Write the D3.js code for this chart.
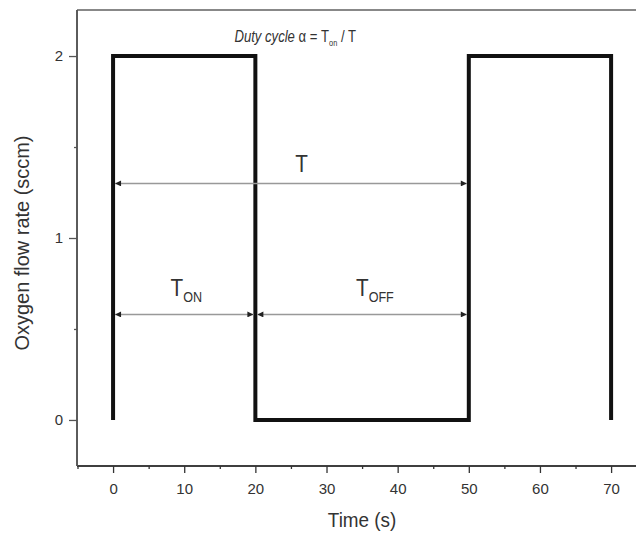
<!DOCTYPE html>
<html><head><meta charset="utf-8">
<script src="https://cdn.jsdelivr.net/npm/d3@7"></script>
<style>body{margin:0;background:#fff}text{font-family:"Liberation Sans",Arial,sans-serif}</style>
</head><body><svg id="c" width="636" height="534"></svg>
<script>
const times = [0, 0, 20, 20, 50, 50, 70, 70];
const flows = [0, 2, 2, 0, 0, 2, 2, 0];
const xTicks = [0, 10, 20, 30, 40, 50, 60, 70];
const xMinor = [-5, 5, 15, 25, 35, 45, 55, 65];
const yTicks = [0, 1, 2];
const yMinor = [0.5, 1.5];
const spans = [{a:0,b:50,y:1.3,label:"T",sub:"",lx:26.5},{a:0,b:20,y:0.58,label:"T",sub:"ON",lx:10.3},{a:20,b:50,y:0.58,label:"T",sub:"OFF",lx:36.8}];

const svg = d3.select("#c");
const L = 77, R = 636, Tp = 10, B = 466;
const x = d3.scaleLinear().domain([-5.07, 73.5]).range([L, R]);
const y = d3.scaleLinear().domain([-0.253, 2.253]).range([B, Tp]);

// top frame
svg.append("line").attr("x1",L).attr("x2",R).attr("y1",Tp).attr("y2",Tp).attr("stroke","#888").attr("stroke-width",2);

// x axis
const gx = svg.append("g").attr("transform",`translate(0,${B})`);
gx.call(d3.axisBottom(x).tickValues(xTicks).tickSize(7).tickPadding(10).tickFormat(d3.format("d")));
gx.append("g").call(d3.axisBottom(x).tickValues(xMinor).tickSize(3).tickFormat(""));
gx.selectAll(".domain").attr("stroke","#333").attr("stroke-width",1.6).attr("d",`M${L},0H${R}`);
gx.selectAll("text").attr("font-size",15).attr("fill","#333");
gx.selectAll("line").attr("stroke","#333").attr("stroke-width",1.3);

// y axis
const gy = svg.append("g").attr("transform",`translate(${L},0)`);
gy.call(d3.axisLeft(y).tickValues(yTicks).tickSize(8).tickPadding(6).tickFormat(d3.format("d")));
gy.append("g").call(d3.axisLeft(y).tickValues(yMinor).tickSize(3).tickFormat(""));
gy.selectAll(".domain").attr("stroke","#555").attr("stroke-width",1.6).attr("d",`M0,${Tp}V${B}`);
gy.selectAll("text").attr("font-size",15).attr("fill","#333");
gy.selectAll("line").attr("stroke","#555").attr("stroke-width",1.3);

// axis titles
svg.append("text").attr("transform",`translate(${x(35)},527) scale(0.9,1)`).attr("text-anchor","middle").attr("font-size",21).attr("fill","#333").text("Time (s)");
svg.append("text").attr("transform",`translate(29,243) rotate(-90) scale(0.95,1)`).attr("text-anchor","middle").attr("font-size",21).attr("fill","#333").text("Oxygen flow rate (sccm)");

// step line
const pts = times.map((t,i)=>[t,flows[i]]);
svg.append("path").datum(pts).attr("d",d3.line().x(d=>x(d[0])).y(d=>y(d[1])))
  .attr("fill","none").attr("stroke","#111").attr("stroke-width",4).attr("stroke-linejoin","miter");

// arrows
const defs = svg.append("defs");
defs.append("marker").attr("id","ah").attr("viewBox","0 0 10 10").attr("refX",10).attr("refY",5)
  .attr("markerWidth",8).attr("markerHeight",6).attr("orient","auto-start-reverse").attr("markerUnits","userSpaceOnUse")
  .append("path").attr("d","M0,0L10,5L0,10Z").attr("fill","#222");
spans.forEach(s=>{
  svg.append("line").attr("x1",x(s.a)+2).attr("x2",x(s.b)-2).attr("y1",y(s.y)).attr("y2",y(s.y))
    .attr("stroke","#999").attr("stroke-width",1.5).attr("marker-start","url(#ah)").attr("marker-end","url(#ah)");
  const t = svg.append("text").attr("transform",`translate(${x(s.lx)},${y(s.y)-(s.sub?18:11)}) scale(0.9,1)`).attr("text-anchor","middle").attr("font-size",23).attr("fill","#333");
  t.append("tspan").text(s.label);
  if(s.sub) t.append("tspan").attr("dy",6).attr("font-size",14).text(s.sub);
});

// title annotation
const tt = svg.append("text").attr("transform",`translate(${x(25.6)},42) scale(0.82,1)`).attr("text-anchor","middle").attr("font-size",16).attr("fill","#333");
tt.append("tspan").attr("font-style","italic").text("Duty cycle ");
tt.append("tspan").text("α = T");
tt.append("tspan").attr("dy",4).attr("font-size",9).text("on");
tt.append("tspan").attr("dy",-4).text(" / T");
</script></body></html>
